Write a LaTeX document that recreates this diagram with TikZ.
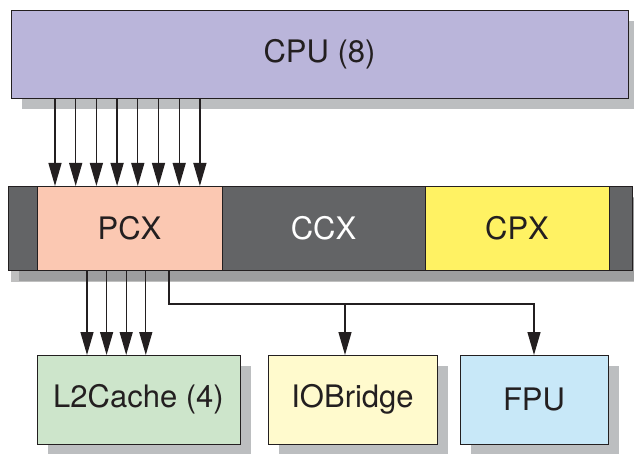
\documentclass[tikz,border=0pt]{standalone}
\usepackage{fontspec}
\setmainfont{TeX Gyre Heros}
\usepackage{tikz}
\usetikzlibrary{arrows.meta,positioning,shadows}
\definecolor{inkdark}{RGB}{35,31,32}
\definecolor{cpuviolet}{RGB}{186,181,218}
\definecolor{xbargray}{RGB}{99,100,102}
\definecolor{pcxsalmon}{RGB}{251,200,178}
\definecolor{cpxyellow}{RGB}{255,242,99}
\definecolor{l2green}{RGB}{205,229,203}
\definecolor{ioyellow}{RGB}{255,250,205}
\definecolor{fpublue}{RGB}{200,232,248}
\definecolor{shadegray}{RGB}{188,190,192}

\begin{document}
\begin{tikzpicture}[x=1pt,y=-1pt,
    font=\fontsize{31}{37}\selectfont, text=inkdark,
    seg/.style={draw=inkdark, line width=0.9pt, inner sep=0pt, outer sep=0pt},
    blk/.style={seg, drop shadow={shadow xshift=11pt, shadow yshift=-11pt,
        fill=shadegray, opacity=1}},
    arr/.style={line width=1.3pt, draw=inkdark,
        -{Triangle[length=23pt,width=13pt]}}]
    \useasboundingbox (0,0) rectangle (634,454);

    % top: the cores
    \node[blk, fill=cpuviolet, minimum width=617pt, minimum height=88pt]
      (cpu) at (319.5,54) {CPU (8)};

    % crossbar
    \node[blk, fill=xbargray, minimum width=624pt, minimum height=84pt,
      drop shadow={shadow yshift=-12pt}] (xbar) at (320,228) {};
    \node[seg, fill=pcxsalmon, minimum width=185pt, minimum height=84pt]
      (pcx) at (129.5,228) {PCX};
    \node[text=white] (ccx) at (323.5,228) {CCX};
    \node[seg, fill=cpxyellow, minimum width=184pt, minimum height=84pt]
      (cpx) at (517,228) {CPX};

    % bottom units
    \node[blk, fill=l2green, minimum width=203pt, minimum height=89pt]
      (l2) at (138.5,399.5) {L2Cache (4)};
    \node[blk, fill=ioyellow, minimum width=169pt, minimum height=89pt]
      (io) at (352.5,399.5) {IOBridge};
    \node[blk, fill=fpublue, minimum width=148pt, minimum height=89pt]
      (fpu) at (534,399.5) {FPU};

    % cpu -> pcx
    \foreach \i in {0,...,7}{
      \coordinate (cp\i) at ({55+20.7*\i},0);
      \draw[arr] (cp\i |- cpu.south) -- (cp\i |- pcx.north);
    }

    % pcx -> l2
    \foreach \i in {0,...,3}{
      \coordinate (lp\i) at ({87+19.6*\i},0);
      \draw[arr] (lp\i |- pcx.south) -- (lp\i |- l2.north);
    }

    % pcx -> io, fpu
    \coordinate (split) at (169,304);
    \coordinate (iotap) at (345,304);
    \draw[arr] (split |- pcx.south) -- (split) -| (fpu.north);
    \draw[arr] (iotap) -- (iotap |- io.north);
\end{tikzpicture}
\end{document}
